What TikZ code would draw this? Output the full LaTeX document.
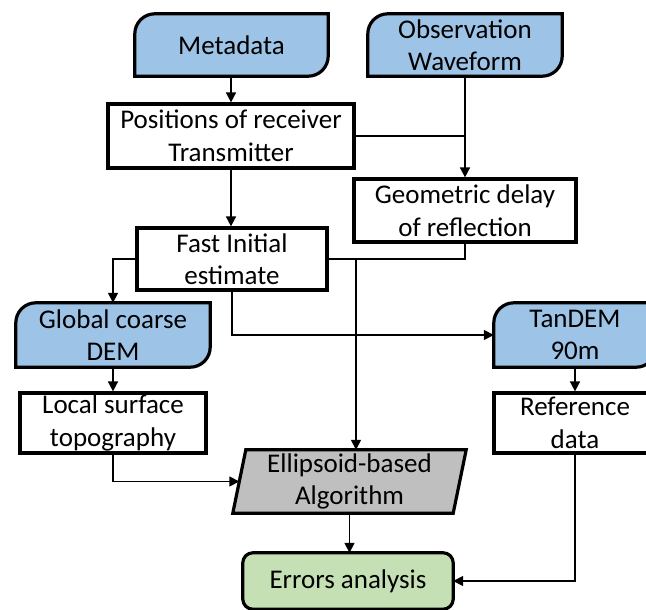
\documentclass[tikz,border=0pt]{standalone}
\usepackage{fontspec}
\setmainfont{Carlito}
\usetikzlibrary{arrows.meta,backgrounds}
\definecolor{datablue}{RGB}{157,195,230}
\definecolor{resgreen}{RGB}{197,224,180}
\definecolor{procgray}{RGB}{191,191,191}
\tikzset{
  txt/.style={font=\fontsize{27}{32.5}\selectfont, align=center, inner sep=0pt},
  procbox/.style={txt, draw=black, line width=3.2pt, fill=white},
  databox/.style={txt},
  dataline/.style={draw=black, line width=3.2pt, fill=datablue},
  conn/.style={line width=1.6pt, draw=black},
  arr/.style={conn, -{Triangle[length=10pt,width=10pt]}},
}
\newcommand\dshape[1]{%
  \path[dataline] ([yshift=-20pt]#1.north west)
    .. controls ([yshift=-9pt]#1.north west) and ([xshift=9pt]#1.north west) .. ([xshift=20pt]#1.north west)
    -- (#1.north east) -- ([yshift=20pt]#1.south east)
    .. controls ([yshift=9pt]#1.south east) and ([xshift=-9pt]#1.south east) .. ([xshift=-20pt]#1.south east)
    -- (#1.south west) -- cycle;}
\begin{document}
\begin{tikzpicture}[x=1pt,y=-1pt]
\useasboundingbox (0,0) rectangle (646,610);
\clip (0,0) rectangle (646,610);
% nodes
\node[databox, minimum width=193pt, minimum height=62pt] (meta) at (231.5,45) {Metadata};
\node[databox, minimum width=194pt, minimum height=62pt] (obs) at (465,45) {Observation\\Waveform};
\node[procbox, minimum width=246pt, minimum height=64pt] (pos) at (231,136) {Positions of receiver\\Transmitter};
\node[procbox, minimum width=222pt, minimum height=63pt] (geo) at (465,210.5) {Geometric delay\\of reflection};
\node[procbox, minimum width=190pt, minimum height=62pt] (fast) at (232,259) {Fast Initial\\estimate};
\node[databox, minimum width=194pt, minimum height=64pt] (glob) at (113,335) {Global coarse\\DEM};
\node[databox, minimum width=162pt, minimum height=64pt] (tan) at (575,335) {TanDEM\\90m};
\node[procbox, minimum width=186pt, minimum height=60pt] (loc) at (113,423) {Local surface\\topography};
\node[procbox, minimum width=162pt, minimum height=60pt] (ref) at (575,423) {Reference\\data};
\node[txt, minimum width=220pt, minimum height=63pt] (ell) at (349.5,481.5) {Ellipsoid-based\\Algorithm};
\node[txt, minimum width=210pt, minimum height=56pt] (err) at (348,581) {Errors analysis};
% shapes behind text
\begin{scope}[on background layer]
  \clip (0,0) rectangle (646,610);
  \dshape{meta}
  \dshape{obs}
  \dshape{glob}
  \dshape{tan}
  \path[draw=black, line width=3.2pt, fill=procgray]
    ([xshift=6.5pt]ell.north west) -- ([xshift=6.5pt]ell.north east)
    -- ([xshift=-6.5pt]ell.south east) -- ([xshift=-6.5pt]ell.south west) -- cycle;
  \path[draw=black, line width=3.2pt, fill=resgreen, rounded corners=10pt]
    (err.north west) rectangle (err.south east);
\end{scope}
% connectors
\coordinate (j1) at (pos.east -| obs.south);
\coordinate (j2) at (fast.east -| geo.south);
\coordinate (j3) at (356,259);
\coordinate (j4) at (fast.west -| glob.north);
\coordinate (j5) at (fast.south |- tan.west);
\coordinate (j6) at (loc.south |- ell.west);
\coordinate (j7) at (ref.south |- err.east);
\draw[arr] (meta.south -| pos.north) -- (pos.north);
\draw[arr] (obs.south) -- (geo.north);
\draw[conn] (pos.east) -- (j1);
\draw[arr] (pos.south) -- (pos.south |- fast.north);
\draw[conn] (geo.south) -- (j2) -- (fast.east);
\draw[arr] (fast.west) -- (j4) -- (glob.north);
\draw[arr] (j3) -- (j3 |- ell.north);
\draw[arr] (fast.south) -- (j5) -- (tan.west);
\draw[arr] (glob.south) -- (loc.north);
\draw[arr] (tan.south) -- (ref.north);
\draw[arr] (loc.south) -- (j6) -- (ell.west);
\draw[arr] (ell.south) -- (ell.south |- err.north);
\draw[arr] (ref.south) -- (j7) -- (err.east);
\end{tikzpicture}
\end{document}
